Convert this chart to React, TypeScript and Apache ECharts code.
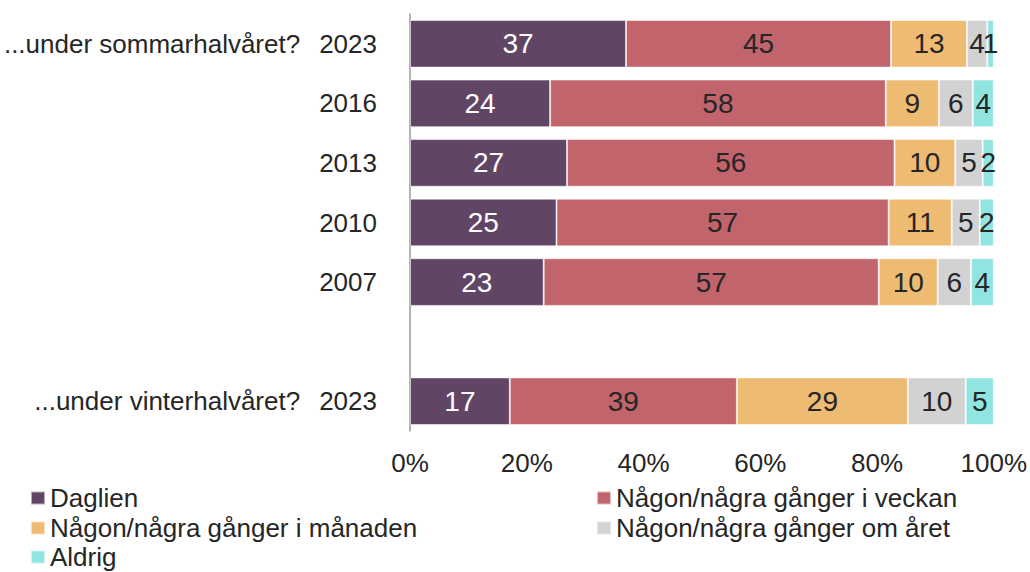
import React, { useEffect, useRef } from "react";
import * as echarts from "echarts";

const categories = [
  "...under sommarhalvåret?|2023",
  "|2016",
  "|2013",
  "|2010",
  "|2007",
  "",
  "...under vinterhalvåret?|2023",
];

const seriesNames = [
  "Daglien",
  "Någon/några gånger i veckan",
  "Någon/några gånger i månaden",
  "Någon/några gånger om året",
  "Aldrig",
];

const daglien = [37.0, 24.0, 26.9, 25.1, 22.9, null, 17.1];
const veckan = [45.4, 57.5, 56.1, 56.9, 57.4, null, 38.9];
const manaden = [13.0, 9.1, 10.4, 10.8, 10.1, null, 29.3];
const aret = [3.5, 5.8, 4.7, 4.8, 5.7, null, 9.9];
const aldrig = [1.1, 3.6, 1.9, 2.4, 3.9, null, 4.8];

const xTicks = [0, 20, 40, 60, 80, 100];

const colors = ["#614565", "#c1646c", "#eebb72", "#d2d2d2", "#90e5e0"];
const labelColors = ["#ffffff", "#262626", "#262626", "#262626", "#262626"];

const FONT = "'Liberation Sans', Arial, sans-serif";

// legend placement: [series index, left, top]
const legendSlots: [number, number, number][] = [
  [0, 25, 480],
  [1, 591, 480],
  [2, 25, 510],
  [3, 591, 510],
  [4, 25, 539],
];

export default function App() {
  const ref = useRef<HTMLDivElement>(null);

  useEffect(() => {
    document.body.style.margin = "0";
    if (!ref.current) return;
    const chart = echarts.init(ref.current, null, { renderer: "svg" });
    const allData = [daglien, veckan, manaden, aret, aldrig];
    const option = {
      animation: false,
      textStyle: { fontFamily: FONT },
      grid: { left: 410, right: 36, top: 14, bottom: 141, containLabel: false },
      legend: legendSlots.map(([i, left, top]) => ({
        data: [seriesNames[i]],
        left,
        top,
        itemWidth: 14,
        itemHeight: 13,
        icon: "rect",
        textStyle: { fontSize: 26, color: "#262626", fontFamily: FONT },
      })),
      xAxis: {
        type: "value",
        min: xTicks[0],
        max: xTicks[xTicks.length - 1],
        interval: 20,
        splitLine: { show: false },
        axisLine: { show: false },
        axisTick: { show: false },
        axisLabel: {
          formatter: "{value}%",
          fontSize: 26,
          color: "#262626",
          fontFamily: FONT,
          margin: 19,
        },
      },
      yAxis: {
        type: "category",
        data: categories,
        inverse: true,
        axisLine: { show: true, lineStyle: { color: "#9a9a9a", width: 1.5 } },
        axisTick: { show: false },
        axisLabel: {
          margin: 33,
          fontSize: 26,
          color: "#262626",
          fontFamily: FONT,
          formatter: (v: string) => {
            if (!v) return "";
            const [g, y] = v.split("|");
            return g ? `{g|${g}}{y|${y}}` : `{y|${y}}`;
          },
          rich: {
            g: { fontSize: 26, color: "#262626", fontFamily: FONT, padding: [0, 19, 0, 0] },
            y: { fontSize: 26, color: "#262626", fontFamily: FONT },
          },
        },
      },
      series: seriesNames.map((name, i) => ({
        name,
        type: "bar",
        stack: "total",
        barCategoryGap: "20%",
        data: allData[i],
        itemStyle: {
          color: colors[i],
          borderColor: "rgba(255,255,255,0.55)",
          borderWidth: 1,
        },
        label: {
          show: true,
          position: "inside",
          fontSize: 28,
          color: labelColors[i],
          fontFamily: FONT,
          formatter: (p: any) => (p.value == null ? "" : String(Math.round(p.value))),
        },
      })),
    };
    chart.setOption(option);
    return () => chart.dispose();
  }, []);

  return <div ref={ref} style={{ width: 1030, height: 572 }} />;
}
